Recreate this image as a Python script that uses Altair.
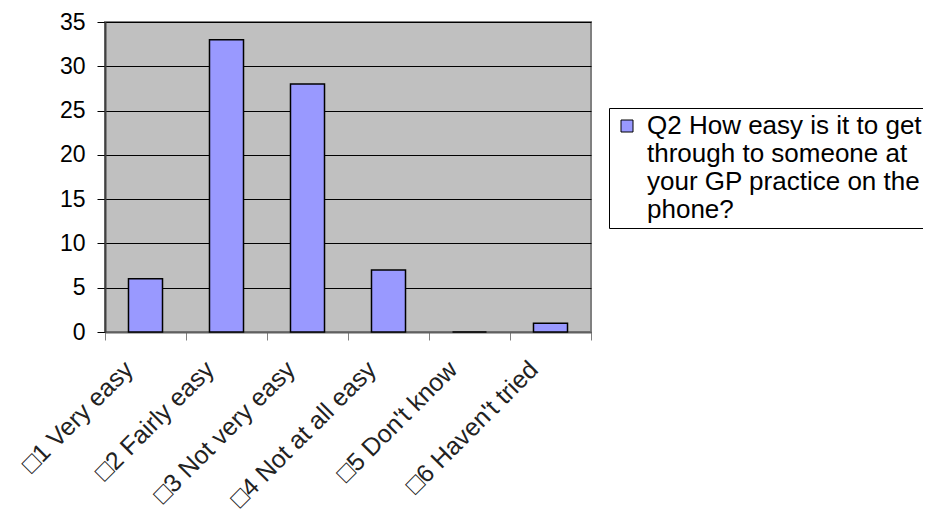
import altair as alt
import pandas as pd

categories = ["\u25a11 Very easy", "\u25a12 Fairly easy", "\u25a13 Not very easy",
              "\u25a14 Not at all easy", "\u25a15 Don't know", "\u25a16 Haven't tried"]
values = [6, 33, 28, 7, 0, 1]
series_name = "Q2 How easy is it to get through to someone at your GP practice on the phone?"
legend_lines = ["Q2 How easy is it to get", "through to someone at",
                "your GP practice on the", "phone?"]
y_ticks = [0, 5, 10, 15, 20, 25, 30, 35]

df = pd.DataFrame({"cat": categories, "val": values, "series": [series_name] * len(values)})

label_expr = "[" + ", ".join("'" + s + "'" for s in legend_lines) + "]"

chart = alt.Chart(df).mark_bar(
    stroke="black", strokeWidth=1.5, width=alt.RelativeBandSize(0.42)
).encode(
    x=alt.X("cat:N", sort=categories, title=None,
            scale=alt.Scale(paddingInner=0, paddingOuter=0),
            axis=alt.Axis(labelAngle=-45, labelFontSize=25, labelFont="Liberation Sans",
                          labelColor="#222222", tickBand="extent", tickSize=8,
                          tickColor="#808080", domainColor="#606060", domainWidth=2,
                          labelAlign="right", labelBaseline="line-bottom",
                          labelLineHeight=46, labelPadding=42, labelLimit=400)),
    y=alt.Y("val:Q", title=None,
            scale=alt.Scale(domain=[0, 35], nice=False),
            axis=alt.Axis(values=y_ticks, labelFontSize=23, labelFont="Liberation Sans",
                          labelColor="black", tickSize=8, tickColor="black",
                          domainColor="#404040", domainWidth=2, grid=True,
                          gridColor="black", gridWidth=1, labelPadding=12)),
    color=alt.Color("series:N", scale=alt.Scale(range=["#9999FF"]),
                    legend=alt.Legend(title=None, orient="none", legendX=504, legendY=86,
                                      labelExpr=label_expr, labelFontSize=26,
                                      labelFont="Liberation Sans", labelColor="black",
                                      symbolType="square", symbolSize=144,
                                      symbolStrokeColor="black", symbolStrokeWidth=1,
                                      strokeColor="black", fillColor="white",
                                      labelOffset=7, padding=5, labelLimit=400)),
).properties(
    width=486, height=310,
    autosize=alt.AutoSizeParams(type="none"),
    padding={"left": 97, "top": 14, "right": 332, "bottom": 180},
    background="white",
).configure_view(
    fill="#C0C0C0", stroke="#808080", strokeWidth=2
)

chart.save("out.html", embed_options={"renderer": "svg", "actions": False})
